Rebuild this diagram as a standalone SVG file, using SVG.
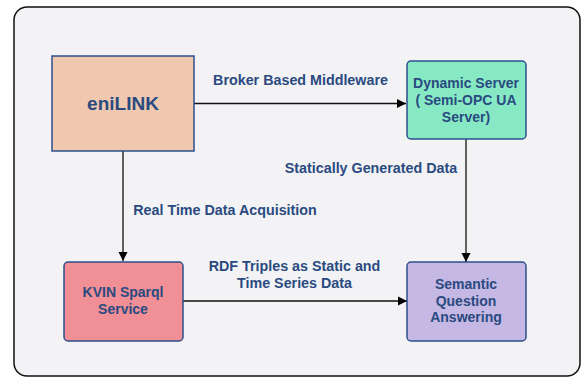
<svg xmlns="http://www.w3.org/2000/svg" width="582" height="377" viewBox="0 0 582 377">
<defs>
<marker id="ah" markerWidth="10" markerHeight="10" refX="9" refY="5" orient="auto" markerUnits="userSpaceOnUse">
<path d="M0,0.5 L9,5 L0,9.5 Z" fill="#000"/>
</marker>
<style>
.node{stroke:#2c4f8c;stroke-width:1.5}
.t{font-family:"Liberation Sans",Arial,sans-serif;font-weight:bold;fill:#2a4a80;text-anchor:middle}
.nt{font-size:14px}
.lt{font-size:14.3px}
.c{stroke:#111;stroke-width:1.3;fill:none;marker-end:url(#ah)}
</style>
</defs>
<rect x="14" y="7" width="566" height="369" rx="13" fill="#f3f3f6" stroke="#111" stroke-width="1.5"/>
<g id="connectors">
<path class="c" d="M194,103.5 H406"/>
<path class="c" d="M123,151 V261"/>
<path class="c" d="M466,139 V262"/>
<path class="c" d="M183,301 H407"/>
<text class="t lt" x="300.5" y="85">Broker Based Middleware</text>
<text class="t lt" x="371" y="173">Statically Generated Data</text>
<text class="t lt" x="225" y="215">Real Time Data Acquisition</text>
<text class="t lt" x="294.5" y="271">RDF Triples as Static and</text>
<text class="t lt" x="294.5" y="288">Time Series Data</text>
</g>
<g id="eniLINK">
<rect class="node" x="52" y="56" width="142" height="95" fill="#f0c8b0"/>
<text class="t" x="123" y="110" font-size="19">eniLINK</text>
</g>
<g id="dynamic-server">
<rect class="node" x="407" y="61" width="119" height="78" rx="4" fill="#87e9c4"/>
<text class="t nt" x="466" y="88">Dynamic Server</text>
<text class="t nt" x="466" y="105">( Semi-OPC UA</text>
<text class="t nt" x="466" y="122">Server)</text>
</g>
<g id="kvin">
<rect class="node" x="64" y="262" width="119" height="79" rx="4" fill="#f08f96"/>
<text class="t nt" x="123" y="297">KVIN Sparql</text>
<text class="t nt" x="123" y="314">Service</text>
</g>
<g id="semantic">
<rect class="node" x="407" y="262" width="119" height="79" rx="4" fill="#c5b8e4"/>
<text class="t nt" x="466" y="289">Semantic</text>
<text class="t nt" x="466" y="306">Question</text>
<text class="t nt" x="466" y="322">Answering</text>
</g>
</svg>
